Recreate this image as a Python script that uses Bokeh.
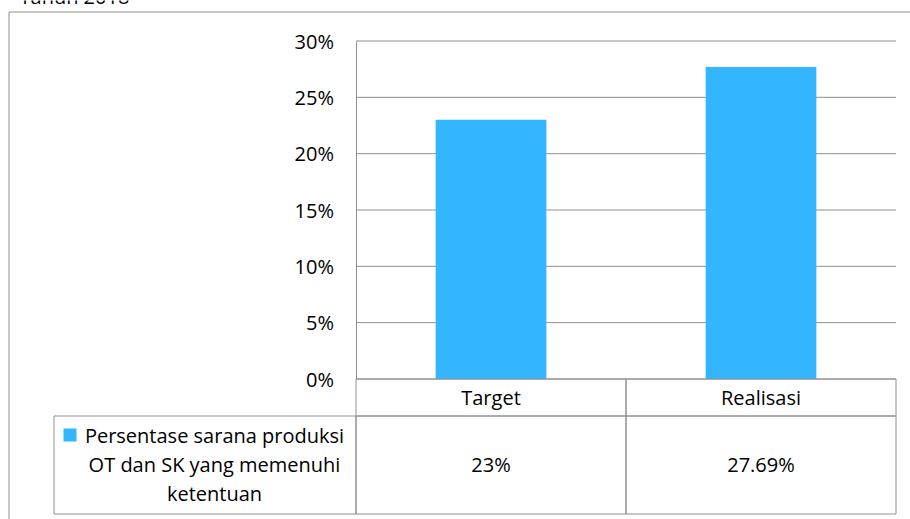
from bokeh.plotting import figure
from bokeh.models import (Range1d, FixedTicker, NumeralTickFormatter, LinearAxis,
                          ColumnDataSource)
from bokeh.core.properties import value
from bokeh.embed import file_html
from bokeh.resources import INLINE

# ---- data ----
title_text = "Tahun 2018"
categories = ["Target", "Realisasi"]
values = [0.23, 0.2769]
value_labels = ["23%", "27.69%"]
series_lines = ["Persentase sarana produksi", "OT dan SK yang memenuhi", "ketentuan"]
y_ticks = [0.0, 0.05, 0.10, 0.15, 0.20, 0.25, 0.30]

# ---- style / layout ----
FONT = "Open Sans"
FS = "20px"
GRAY = "#909090"
BAR = "#33b5ff"
W, H = 910, 519

# pixel placement of the plot area (category 0..2 -> 355..895 px, 0..30% -> 378..40 px)
X0, XS = 355.5, 270.0
Y0, YS = 378.5, 338.0 / 0.30
TXT_SHIFT = 8  # text baseline correction (px)


def dx(px):
    return (px - X0) / XS


def dy(py):
    return (Y0 - py) / YS


def ty(py):
    return dy(py - TXT_SHIFT)


p = figure(width=W, height=H, x_range=Range1d(dx(0), dx(W)), y_range=Range1d(dy(H), dy(0)),
           x_axis_type=None, y_axis_type=None,
           output_backend="svg", toolbar_location=None,
           min_border_left=0, min_border_right=0, min_border_top=0, min_border_bottom=0)
p.outline_line_color = None
p.background_fill_color = "white"
p.border_fill_color = "white"

n = len(categories)
xc = [i + 0.5 for i in range(n)]

# gridlines (behind the bars)
p.segment(x0=[0] * len(y_ticks), x1=[n] * len(y_ticks), y0=y_ticks, y1=y_ticks,
          line_color=GRAY, line_width=1, level="underlay")

# bars
src = ColumnDataSource(dict(x=xc, val=values))
p.vbar(x="x", top="val", width=0.41, source=src, fill_color=BAR, line_color=None)

# value axis at the left edge of the plot area
yaxis = LinearAxis(fixed_location=0, bounds=(0, y_ticks[-1]),
                   ticker=FixedTicker(ticks=y_ticks),
                   formatter=NumeralTickFormatter(format="0%"))
yaxis.major_tick_line_color = None
yaxis.minor_tick_line_color = None
yaxis.axis_line_color = GRAY
yaxis.major_label_text_font = FONT
yaxis.major_label_text_font_size = FS
yaxis.major_label_text_color = "black"
yaxis.major_label_standoff = 16
p.add_layout(yaxis, "left")

# outer chart border (top and left)
p.segment(x0=[dx(8.5), dx(8.5)], x1=[dx(W + 5), dx(8.5)],
          y0=[dy(11.5), dy(11.5)], y1=[dy(11.5), dy(H + 5)],
          line_color=GRAY, line_width=1)

# data table: header row with category names
p.quad(left=[i for i in range(n)], right=[i + 1 for i in range(n)],
       top=dy(378.5), bottom=dy(415.5), fill_color=None, line_color=GRAY, line_width=1)
# value row (legend column + one cell per category)
p.quad(left=[dx(53.5)] + [i for i in range(n)], right=[0] + [i + 1 for i in range(n)],
       top=dy(415.5), bottom=dy(513.5), fill_color=None, line_color=GRAY, line_width=1)
# legend key
p.quad(left=dx(63), right=dx(76), top=dy(428), bottom=dy(441), fill_color=BAR, line_color=None)

txt = dict(text_font=value(FONT), text_font_size=value(FS), text_color="black",
           text_baseline="alphabetic")

# category names
p.text(x=xc, y=[ty(405)] * n, text=categories, text_align="center", **txt)
# values
p.text(x=xc, y=[ty(472)] * n, text=value_labels, text_align="center", **txt)
# series name (legend text)
p.text(x=[dx(214)] * len(series_lines), y=[ty(443), ty(472), ty(501)],
       text=series_lines, text_align="center", **txt)
# title (cut off at the top in the reference)
p.text(x=[dx(19)], y=[ty(4)], text=[title_text], text_align="left", **txt)

open("out.html", "w").write(file_html(p, INLINE))
